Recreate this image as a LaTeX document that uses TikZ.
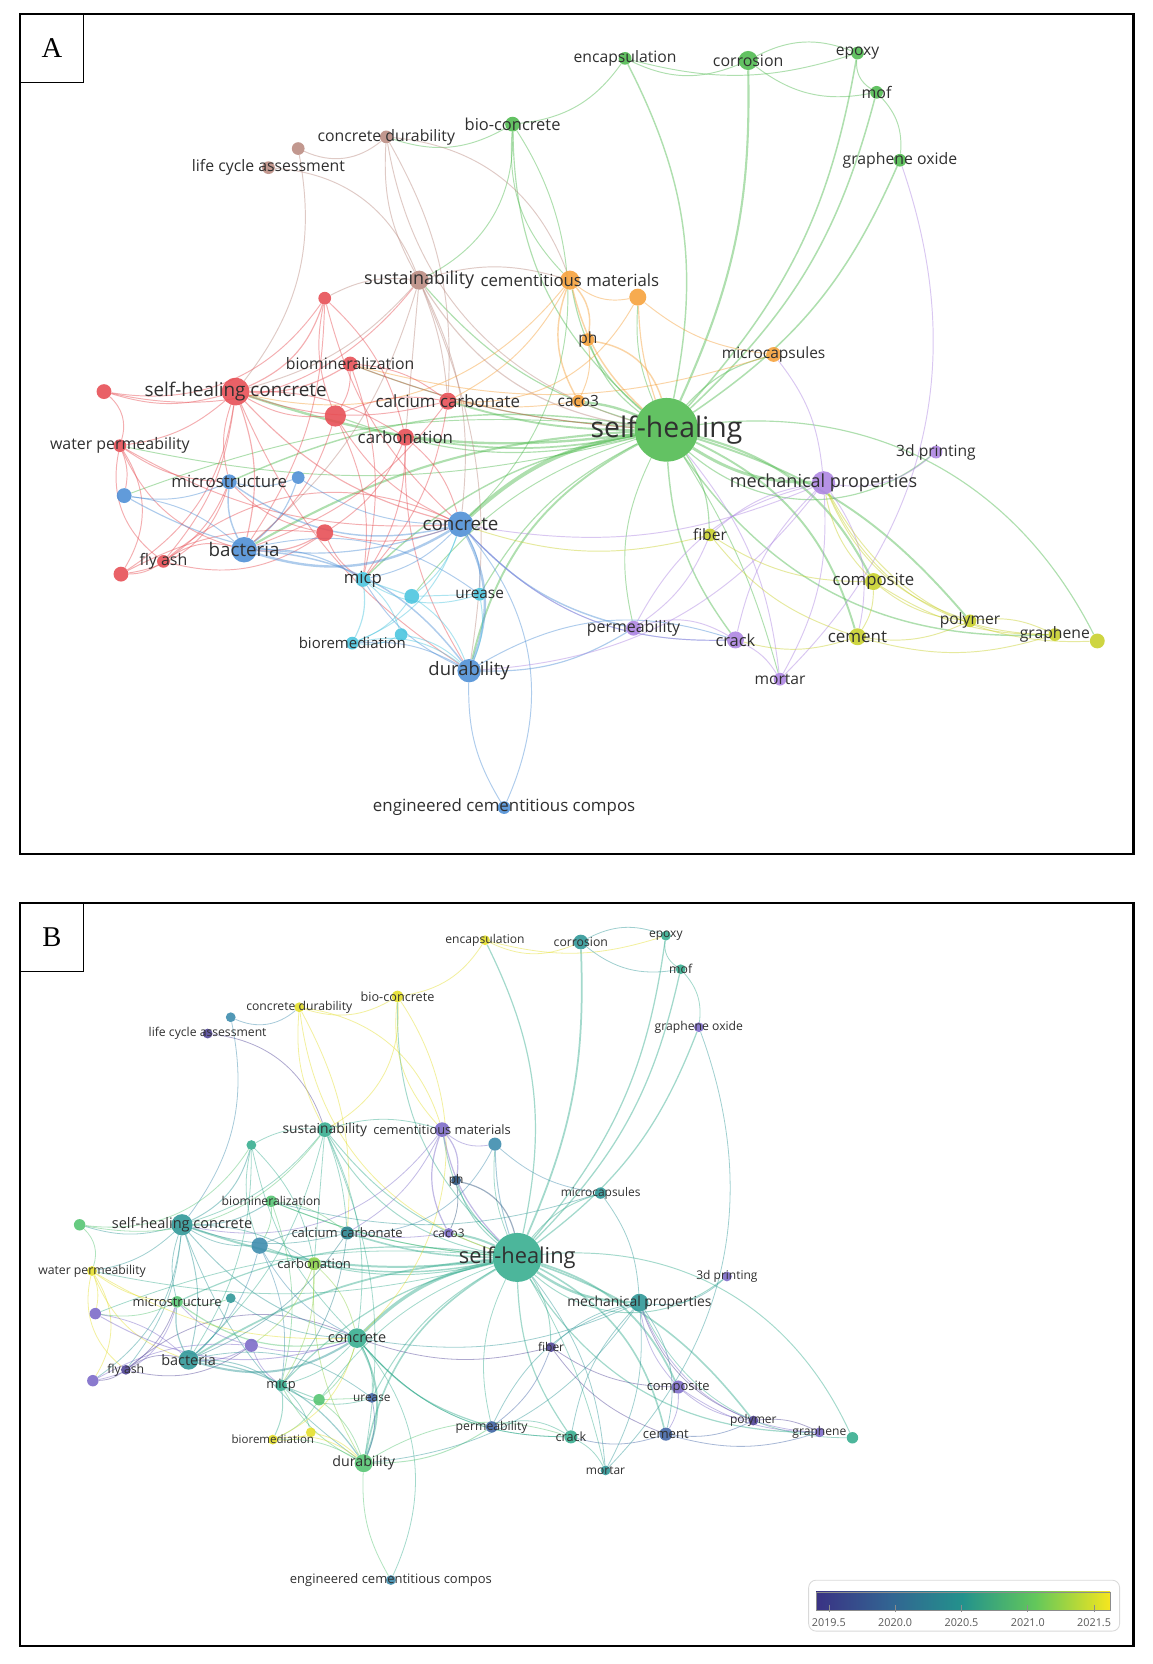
\documentclass[tikz,border=0pt]{standalone}
\usepackage{fontspec}
\setmainfont{Open Sans}
\newfontfamily\panelfont{Liberation Serif}
\usetikzlibrary{backgrounds}
% cluster colours (panel A)
\definecolor{cRed}{RGB}{231,76,82}
\definecolor{cBrown}{RGB}{186,138,128}
\definecolor{cGreen}{RGB}{78,186,78}
\definecolor{cOrange}{RGB}{246,160,56}
\definecolor{cBlue}{RGB}{76,142,214}
\definecolor{cCyan}{RGB}{72,196,222}
\definecolor{cPurple}{RGB}{172,132,226}
\definecolor{cYellow}{RGB}{200,208,40}
% overlay colours (panel B)
\definecolor{vPurple}{RGB}{122,104,200}
\definecolor{vDpurple}{RGB}{78,66,150}
\definecolor{vBlue}{RGB}{62,98,165}
\definecolor{vDblue}{RGB}{38,78,120}
\definecolor{vTealb}{RGB}{58,138,172}
\definecolor{vTeal}{RGB}{44,150,150}
\definecolor{vDteal}{RGB}{36,128,140}
\definecolor{vTealg}{RGB}{52,172,142}
\definecolor{vGreen}{RGB}{82,196,112}
\definecolor{vLgreen}{RGB}{140,208,70}
\definecolor{vYellow}{RGB}{228,222,38}
\definecolor{labelgray}{RGB}{48,48,48}
\definecolor{vir0}{RGB}{58,50,132}
\definecolor{vir1}{RGB}{50,100,146}
\definecolor{vir2}{RGB}{35,146,140}
\definecolor{vir3}{RGB}{100,200,90}
\definecolor{vir4}{RGB}{246,230,30}
\newcommand\nodecol[3]{\colorlet{A-#1}{#2}\colorlet{B-#1}{#3}}
\nodecol{enc}{cGreen}{vYellow}
\nodecol{cor}{cGreen}{vTeal}
\nodecol{epo}{cGreen}{vTealg}
\nodecol{mof}{cGreen}{vTealg}
\nodecol{gox}{cGreen}{vPurple}
\nodecol{bio}{cGreen}{vYellow}
\nodecol{sh}{cGreen}{vTealg}
\nodecol{cdu}{cBrown}{vYellow}
\nodecol{ub1}{cBrown}{vTealb}
\nodecol{lca}{cBrown}{vDpurple}
\nodecol{sus}{cBrown}{vTealg}
\nodecol{cem}{cOrange}{vPurple}
\nodecol{uo1}{cOrange}{vTealb}
\nodecol{ph}{cOrange}{vDblue}
\nodecol{mcap}{cOrange}{vTeal}
\nodecol{caco}{cOrange}{vPurple}
\nodecol{bmin}{cRed}{vGreen}
\nodecol{ur1}{cRed}{vTealg}
\nodecol{shc}{cRed}{vTeal}
\nodecol{ur2}{cRed}{vGreen}
\nodecol{caca}{cRed}{vDteal}
\nodecol{ur3}{cRed}{vTealb}
\nodecol{carb}{cRed}{vLgreen}
\nodecol{wp}{cRed}{vYellow}
\nodecol{fly}{cRed}{vDpurple}
\nodecol{ur4}{cRed}{vPurple}
\nodecol{ur5}{cRed}{vPurple}
\nodecol{mst}{cBlue}{vGreen}
\nodecol{ubl1}{cBlue}{vTeal}
\nodecol{ubl2}{cBlue}{vPurple}
\nodecol{conc}{cBlue}{vTealg}
\nodecol{bac}{cBlue}{vTeal}
\nodecol{dur}{cBlue}{vGreen}
\nodecol{ecc}{cBlue}{vTealb}
\nodecol{micp}{cCyan}{vTealg}
\nodecol{uc1}{cCyan}{vGreen}
\nodecol{ure}{cCyan}{vBlue}
\nodecol{brem}{cCyan}{vYellow}
\nodecol{uc2}{cCyan}{vYellow}
\nodecol{perm}{cPurple}{vBlue}
\nodecol{crk}{cPurple}{vTealg}
\nodecol{mor}{cPurple}{vTeal}
\nodecol{pr3d}{cPurple}{vPurple}
\nodecol{mech}{cPurple}{vTeal}
\nodecol{fib}{cYellow}{vDpurple}
\nodecol{comp}{cYellow}{vPurple}
\nodecol{cmt}{cYellow}{vBlue}
\nodecol{poly}{cYellow}{vDpurple}
\nodecol{grph}{cYellow}{vPurple}
\nodecol{uy1}{cYellow}{vTealg}

\newcommand\pfx{A}
\newcommand\nx{1}\newcommand\ny{1}\newcommand\cx{0}\newcommand\cy{0}
\newcommand\netscale{1}\newcommand\lwf{0.9}
% keyword node: id, x, y, radius, font size, label
\newcommand\kw[6]{%
  \pgfmathsetmacro\kwx{\nx*#2+\cx}%
  \pgfmathsetmacro\kwy{\ny*#3+\cy}%
  \pgfmathsetmacro\kwr{2*#4*\netscale}%
  \pgfmathsetmacro\kwf{#5*\netscale}%
  \node[kwnode, minimum size=\kwr pt, fill=\pfx-#1] (\pfx#1) at (\kwx,\kwy) {};
  \ifx&#6&\else
  \node[kwlabel, font={\fontsize{\kwf}{\kwf}\selectfont}] (\pfx#1-l) at (\kwx,\kwy) {#6};
  \fi
}
\newcommand\allnodes{%
\kw{enc}{589}{55}{6}{14.8}{encapsulation}
\kw{cor}{705}{57}{9}{15}{corrosion}
\kw{epo}{808}{50}{6}{14.7}{epoxy}
\kw{mof}{826}{87}{6}{15}{mof}
\kw{gox}{848}{151}{6}{14.9}{graphene oxide}
\kw{bio}{483}{117}{7}{15.5}{bio-concrete}
\kw{cdu}{364}{129}{6}{14.9}{concrete durability}
\kw{ub1}{281}{140}{6}{0}{}
\kw{lca}{253}{158}{6}{14.9}{life cycle assessment}
\kw{sus}{395}{264}{9}{16.9}{sustainability}
\kw{cem}{537}{264}{9}{15.8}{cementitious materials}
\kw{uo1}{601}{280}{8}{0}{}
\kw{ph}{554}{320}{6}{14.6}{ph}
\kw{mcap}{729}{334}{7}{14.6}{microcapsules}
\kw{caco}{545}{378}{6}{14.5}{caco3}
\kw{bmin}{330}{343}{7}{14.9}{biomineralization}
\kw{ur1}{306}{281}{6}{0}{}
\kw{ur2}{98}{369}{7}{0}{}
\kw{ur3}{316}{392}{10}{0}{}
\kw{caca}{422}{378}{8}{15.9}{calcium carbonate}
\kw{carb}{382}{412}{8}{15.9}{carbonation}
\kw{wp}{113}{420}{6}{15}{water permeability}
\kw{ubl1}{281}{450}{6}{0}{}
\kw{ubl2}{117}{467}{7}{0}{}
\kw{mst}{216}{454}{7}{15.8}{microstructure}
\kw{ur4}{306}{502}{8}{0}{}
\kw{ur5}{114}{541}{7}{0}{}
\kw{fly}{154}{529}{6}{15}{fly ash}
\kw{uc1}{388}{562}{7}{0}{}
\kw{uc2}{378}{598}{6}{0}{}
\kw{micp}{342}{546}{7}{15.8}{micp}
\kw{ure}{452}{560}{6}{14.5}{urease}
\kw{brem}{332}{606}{6}{14.1}{bioremediation}
\kw{ecc}{475}{761}{6}{15.9}{engineered cementitious compos}
\kw{perm}{597}{592}{7}{15}{permeability}
\kw{crk}{693}{603}{8}{15.5}{crack}
\kw{mor}{735}{640}{6}{14.7}{mortar}
\kw{pr3d}{882}{426}{6}{14.7}{3d printing}
\kw{fib}{669}{504}{6}{14.7}{fiber}
\kw{comp}{823}{548}{8}{15.8}{composite}
\kw{cmt}{808}{600}{8}{16}{cement}
\kw{poly}{914}{585}{6}{14.7}{polymer}
\kw{grph}{994}{598}{6}{14.8}{graphene}
\kw{uy1}{1034}{604}{7}{0}{}
\kw{mech}{776}{455}{11}{17}{mechanical properties}
\kw{dur}{442}{632}{11}{17.4}{durability}
\kw{bac}{230}{518}{12}{17.7}{bacteria}
\kw{conc}{434}{494}{12}{17.7}{concrete}
\kw{shc}{222}{369}{13}{17.8}{self-healing concrete}
\kw{sh}{628}{405}{30}{26.7}{self-healing}
}
\newcommand\edgelist{sh/enc/1.5/-12, sh/cor/2.2/-8, sh/epo/1.6/-10, sh/mof/1.6/-10, sh/gox/1.6/-10, sh/bio/1.2/15, sh/ph/1.2/10, sh/cem/1.2/12, sh/mcap/1.2/10, sh/uo1/1/8, sh/conc/4/-10, sh/bac/2.2/-8, sh/shc/2.5/8, sh/caca/2/5, sh/carb/1.8/6, sh/mst/1.5/-10, sh/dur/2/-15, sh/micp/1.5/-10, sh/ure/1.2/-10, sh/crk/1.5/-10, sh/perm/1/-12, sh/mech/3/-10, sh/comp/2.2/15, sh/cmt/2/15, sh/poly/2/10, sh/grph/1.5/-18, sh/fib/1.2/10, sh/pr3d/1.2/-25, sh/mor/1/5, sh/sus/1.2/10, sh/wp/1/8, sh/bmin/1.2/5, sh/uy1/1.2/22, sh/ur3/1.2/10, sh/ubl2/1/-8, sh/uc1/1/-10, sh/caco/2.5/-5,
enc/cor/1/-15, enc/epo/1/-10, cor/epo/1/15, cor/mof/1/-15, epo/mof/1/-20, mof/gox/1/15, enc/bio/1/15, bio/cdu/1/15, bio/sus/1/20, bio/cem/1/-15, bio/conc/1/25,
ub1/cdu/1/-20, lca/sus/1/20, ub1/shc/1/15, cdu/sus/1/-10, cdu/caca/1/10, cdu/sh/1/-20, cdu/cem/1/20, sus/sh/1.2/-15, sus/conc/1/10, sus/cem/1/10, sus/shc/1/10, sus/carb/1/0, sus/dur/1/10, sus/caca/1/5, sus/bac/1/10, sus/ur1/1/-10,
cem/ph/1.5/15, cem/caco/1.5/-15, cem/uo1/1/-15, cem/sh/1.5/-10, cem/caca/1/10, cem/shc/1/20, ph/sh/1.5/20, ph/caco/1/10, uo1/sh/1.2/-5, uo1/mcap/1/-10, uo1/caca/1/20, mcap/bmin/1/10, caco/caca/1/5,
shc/wp/1/10, shc/ur2/1/10, shc/bac/1.2/10, shc/conc/1.2/-10, shc/ur1/1.2/-15, shc/bmin/1.2/-10, shc/caca/1/-10, shc/carb/1/10, shc/fly/1/10, shc/mst/1/-10, shc/ur3/1/-10, shc/dur/1/-10, shc/ur5/1/15, ur2/wp/1/20, ur2/ur1/1/-20, ur2/sus/1/-20, wp/ubl2/1/10, wp/ur5/1/20, wp/fly/1/-20, wp/mst/1/-10, wp/bac/1/-15, wp/conc/1/-10, fly/ur5/1/10, fly/bac/1/15, fly/mst/1/-10, fly/conc/1/20, fly/ur4/1/-15, ur5/ur4/1/10, ur5/mst/1/-20, ur1/carb/1/10, ur1/bac/1/10, ur1/ur3/1/-10, ur1/conc/1/-10, bmin/caca/1/10, bmin/sh/1/-5, bmin/micp/1/10, bmin/ur3/1/10, caca/ur3/1/-10, caca/micp/1/10, caca/bac/1/10, carb/conc/1/10, carb/micp/1/10, carb/dur/1/-10, carb/ur4/1/10, ur3/bac/1/10, ur3/micp/1/10, ur3/conc/1/-10, ur4/bac/1.2/10, ur4/conc/1/-10, ur4/mst/1/10, ur4/micp/1/-10,
bac/mst/1.5/10, bac/conc/2.5/-15, bac/dur/1.5/15, bac/ubl1/1.2/-10, bac/micp/1.2/10, bac/ure/1/15, mst/conc/1.5/-15, mst/ubl2/1/10, mst/ubl1/1/-10, ubl2/conc/1.2/-15, ubl2/bac/1/10, ubl1/conc/1/-10, conc/dur/2.5/15, conc/ure/1/10, conc/micp/1/10, conc/perm/1.5/-10, conc/crk/1/-15, conc/ecc/1/20, dur/ecc/1/-10, dur/micp/1/10, dur/brem/1/-10, dur/perm/1.2/-10, dur/crk/1/15,
micp/uc1/1.2/0, micp/brem/1.2/10, micp/ure/1/-15, micp/uc2/1/10, uc1/ure/1/0, uc1/dur/1/10, uc1/conc/1/-10, uc1/brem/1/10, brem/uc2/1/-10, brem/conc/1/-15, uc2/dur/1/10, ure/dur/1/10, brem/dur/1/15,
mech/pr3d/1/-15, mech/crk/1/-10, mech/mor/1/10, mech/cmt/1/15, mech/fib/1/-10, mech/perm/1/-15, mech/conc/1/10, mech/dur/1/15, mech/mcap/1/-10, crk/mor/1/10, crk/perm/1/-15, crk/conc/1/15, perm/fib/1/-10, mor/sh/1/-10, mor/gox/1/-20,
comp/cmt/1/10, comp/poly/1/-10, comp/grph/1/-10, comp/mech/1/10, cmt/poly/1/-10, cmt/grph/1/-10, poly/grph/1/10, poly/mech/1/15, grph/mech/1/20, uy1/mech/1/20, fib/conc/1/10, fib/cmt/1/-10, fib/comp/1/-10, cmt/crk/1/10}
\newcommand\alledges{%
  \begin{pgfonlayer}{background}
  \foreach \s/\t/\w/\b in \edgelist {
    \pgfmathsetmacro\bb{1.6*\b}
    \draw[edge, draw=\pfx-\s, line width=\w*\lwf*1pt] (\pfx\s) to[bend left=\bb] (\pfx\t);
  }
  \end{pgfonlayer}}

\begin{document}
\begin{tikzpicture}[x=1pt,y=-1pt,
  kwnode/.style={circle, inner sep=0pt, draw=none, fill opacity=0.88},
  kwlabel/.style={inner sep=0pt, text=labelgray},
  edge/.style={draw opacity=0.45},
  frame/.style={draw=black, line width=2.2pt},
  tagbox/.style={draw=black, line width=0.8pt, fill=white, minimum width=59pt, minimum height=64pt, inner sep=0pt, font=\panelfont\fontsize{27}{27}\selectfont},
  ticklabel/.style={inner sep=0pt, text=black!65, font=\fontsize{10.2}{10.2}\selectfont}]
\useasboundingbox (0,0) rectangle (1086,1568);
\begin{pgfonlayer}{background}
\fill[white] (0,0) rectangle (1086,1568);
\end{pgfonlayer}

% ---------------- Panel A ----------------
\renewcommand\pfx{A}
\allnodes
\alledges
\draw[frame] (19,13) rectangle (1068,805);
\node[tagbox, anchor=north west] (tagA) at (19,13) {A};

% ---------------- Panel B ----------------
\renewcommand\pfx{B}
\renewcommand\nx{0.778}\renewcommand\ny{0.854}
\renewcommand\cx{-1.2}\renewcommand\cy{839}
\renewcommand\netscale{0.77}\renewcommand\lwf{0.75}
\allnodes
\alledges
\draw[frame] (19,851) rectangle (1068,1551);
\node[tagbox, anchor=north west] (tagB) at (19,851) {B};

% colour bar
\node[draw=black!15, line width=0.8pt, rounded corners=7pt, fill=white, minimum width=293pt, minimum height=48pt, inner sep=0pt] (legend) at (908.5,1513) {};
\shade[left color=vir0, right color=vir1] (769,1500) rectangle (838.5,1517);
\shade[left color=vir1, right color=vir2] (838.2,1500) rectangle (907.5,1517);
\shade[left color=vir2, right color=vir3] (907.2,1500) rectangle (976.5,1517);
\shade[left color=vir3, right color=vir4] (976.2,1500) rectangle (1046,1517);
\draw[black!45, line width=0.5pt] (769,1500) rectangle (1046,1517);
\foreach \tx/\tl [count=\i] in {781/2019.5, 843.5/2020.0, 906/2020.5, 968.5/2021.0, 1031/2021.5} {
  \draw[black!45, line width=0.6pt] (\tx,1512) -- (\tx,1519);
  \node[ticklabel] (tick\i) at (\tx,1529) {\tl};
}
\end{tikzpicture}
\end{document}
